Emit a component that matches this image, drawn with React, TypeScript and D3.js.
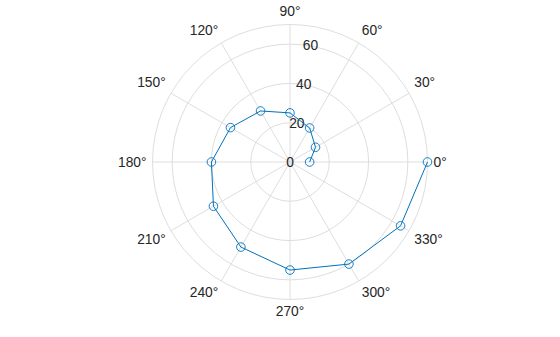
import React from "react";
import * as d3 from "d3";

const thetaDeg = [0, 30, 60, 90, 120, 150, 180, 210, 240, 270, 300, 330, 360];
const rValues = [10, 15, 20, 25, 30, 35, 40, 45, 50, 55, 60, 65, 70];
const rTicks = [0, 20, 40, 60];
const thetaTicks = [0, 30, 60, 90, 120, 150, 180, 210, 240, 270, 300, 330];
const rMax = 70;

const W = 560;
const H = 337;
const cx = 290;
const cy = 162;
const R = 137.5;
const rLabelAngle = 80;

export default function App() {
  const r = d3.scaleLinear().domain([0, rMax]).range([0, R]);
  const toXY = (deg: number, v: number): [number, number] => {
    const a = (deg * Math.PI) / 180;
    return [cx + r(v) * Math.cos(a), cy - r(v) * Math.sin(a)];
  };
  const pts = thetaDeg.map((t, i) => toXY(t, rValues[i]));
  const line = d3.line<[number, number]>()(pts) || "";
  const blue = "#0072BD";
  const grid = "#dedede";
  const textColor = "#262626";
  const font = "Liberation Sans, Arial, sans-serif";
  const fs = 13.8;

  return (
    <svg width={W} height={H} style={{ position: "absolute", left: 0, top: 0, background: "#fff" }}>
      <rect width={W} height={H} fill="#fff" />
      {thetaTicks.map((t) => {
        const [x, y] = toXY(t, rMax);
        return <line key={"s" + t} x1={cx} y1={cy} x2={x} y2={y} stroke={grid} strokeWidth={1} />;
      })}
      {[...rTicks.filter((v) => v > 0), rMax].map((v) => (
        <circle key={"c" + v} cx={cx} cy={cy} r={r(v)} fill="none" stroke={grid} strokeWidth={1} />
      ))}
      {rTicks.map((v) => {
        const [x, y] = toXY(rLabelAngle, v);
        return (
          <text key={"rl" + v} x={x} y={y} textAnchor="middle" dominantBaseline="central"
            fontFamily={font} fontSize={fs} fill={textColor}>
            {v}
          </text>
        );
      })}
      {thetaTicks.map((t) => {
        const a = (t * Math.PI) / 180;
        const c = Math.cos(a);
        const s = Math.sin(a);
        const rr = R + 6;
        const x = cx + rr * c;
        const y = cy - rr * s;
        const anchor = c > 0.1 ? "start" : c < -0.1 ? "end" : "middle";
        const dy = s > 0.1 ? -3 : s < -0.1 ? 10.5 : 5;
        return (
          <text key={"tl" + t} x={x} y={y + dy} textAnchor={anchor}
            fontFamily={font} fontSize={fs} fill={textColor}>
            {t + "°"}
          </text>
        );
      })}
      <path d={line} fill="none" stroke={blue} strokeWidth={1} />
      {pts.map(([x, y], i) => (
        <circle key={"m" + i} cx={x} cy={y} r={4.3} fill="none" stroke={blue} strokeWidth={0.9} />
      ))}
    </svg>
  );
}
